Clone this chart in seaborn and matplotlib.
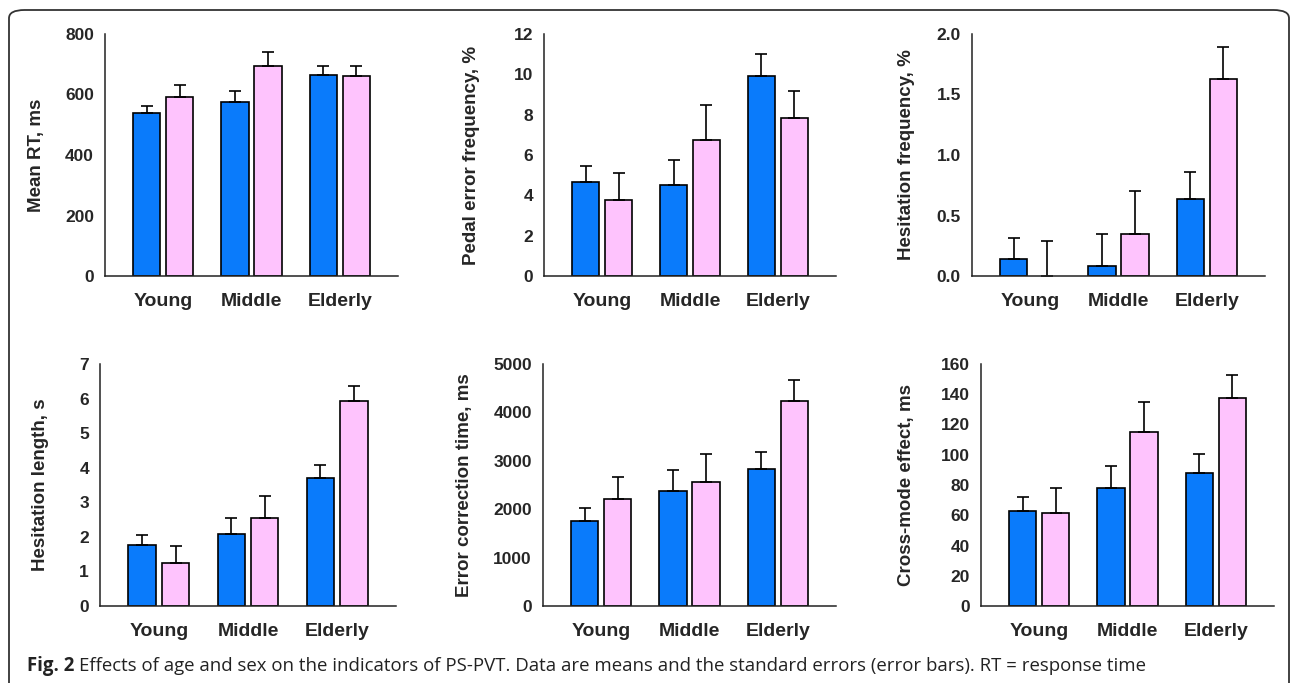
'''
    plot.py
    Effects of age and sex on PS-PVT indicators: bar charts with standard errors.
'''

import pandas as pd
import seaborn as sns
import matplotlib.pyplot as plt
from matplotlib.patches import FancyBboxPatch

groups = ['Young', 'Middle', 'Elderly']
sexes = ['Male', 'Female']

# means and standard errors (male, female)
rt_male = [539, 576, 663]
rt_female = [593, 695, 660]
rt_male_se = [22, 37, 30]
rt_female_se = [37, 47, 33]

pedal_male = [4.65, 4.5, 9.93]
pedal_female = [3.76, 6.73, 7.85]
pedal_male_se = [0.8, 1.24, 1.07]
pedal_female_se = [1.34, 1.74, 1.34]

hes_freq_male = [0.14, 0.08, 0.64]
hes_freq_female = [0.0, 0.35, 1.63]
hes_freq_male_se = [0.17, 0.27, 0.22]
hes_freq_female_se = [0.29, 0.35, 0.26]

hes_len_male = [1.76, 2.07, 3.70]
hes_len_female = [1.24, 2.55, 5.92]
hes_len_male_se = [0.29, 0.48, 0.37]
hes_len_female_se = [0.50, 0.63, 0.45]

corr_male = [1754, 2366, 2827]
corr_female = [2215, 2572, 4243]
corr_male_se = [275, 440, 357]
corr_female_se = [460, 578, 427]

cross_male = [62.7, 77.9, 88.2]
cross_female = [61.6, 114.9, 137.3]
cross_male_se = [9.3, 14.7, 12.6]
cross_female_se = [16.3, 20.0, 15.6]

panels = [
    ('Mean RT, ms', rt_male, rt_female, rt_male_se, rt_female_se, (0, 800), 200, '%d'),
    ('Pedal error frequency, %', pedal_male, pedal_female, pedal_male_se, pedal_female_se, (0, 12), 2, '%d'),
    ('Hesitation frequency, %', hes_freq_male, hes_freq_female, hes_freq_male_se, hes_freq_female_se, (0, 2), 0.5, '%.1f'),
    ('Hesitation length, s', hes_len_male, hes_len_female, hes_len_male_se, hes_len_female_se, (0, 7), 1, '%d'),
    ('Error correction time, ms', corr_male, corr_female, corr_male_se, corr_female_se, (0, 5000), 1000, '%d'),
    ('Cross-mode effect, ms', cross_male, cross_female, cross_male_se, cross_female_se, (0, 160), 20, '%d'),
]

palette = {'Male': '#0a7bfb', 'Female': '#fec3fd'}

W, H = 1292, 683
# axes boxes in pixels: left, top, width, height
boxes = [(105, 34, 293, 242), (544, 34, 292, 242), (972, 34, 293, 242),
         (100, 364, 296, 242), (543, 364, 293, 242), (981, 364, 293, 242)]
label_x = [-0.205, -0.219, -0.195, -0.172, -0.239, -0.225]


def make_df(male, female):
    rows = []
    for g, m, f in zip(groups, male, female):
        rows.append({'group': g, 'sex': 'Male', 'value': m})
        rows.append({'group': g, 'sex': 'Female', 'value': f})
    return pd.DataFrame(rows)


def draw_panel(ax, ylabel, male, female, male_se, female_se, ylim, step, fmt, lx):
    df = make_df(male, female)
    sns.barplot(data=df, x='group', y='value', hue='sex', order=groups,
                hue_order=sexes, palette=palette, width=0.75, gap=0.18,
                edgecolor='black', linewidth=1.2, errorbar=None, legend=False,
                saturation=1, ax=ax)
    for cont, se in zip(ax.containers, [male_se, female_se]):
        xs = [p.get_x() + p.get_width() / 2 for p in cont.patches]
        ys = [p.get_height() for p in cont.patches]
        for p in cont.patches:
            if p.get_height() == 0:
                p.set_linewidth(0)
        ax.errorbar(xs, ys, yerr=[[0] * len(se), se], fmt='none', ecolor='black',
                    elinewidth=1.2, capsize=4, capthick=1.2, zorder=1)
    ax.set_xlim(-0.66, 2.66)
    ax.set_ylim(*ylim)
    n = int(round((ylim[1] - ylim[0]) / step))
    ticks = [ylim[0] + i * step for i in range(n + 1)]
    ax.set_yticks(ticks)
    ax.set_yticklabels([fmt % t for t in ticks])
    ax.set_xlabel('')
    ax.set_ylabel(ylabel, fontsize=13.5, fontweight='bold')
    ax.yaxis.set_label_coords(lx, 0.5)
    for s in ['top', 'right']:
        ax.spines[s].set_visible(False)
    for s in ['left', 'bottom']:
        ax.spines[s].set_linewidth(1.1)
        ax.spines[s].set_color('#222222')
    ax.tick_params(axis='y', labelsize=12.5, length=3, width=1, pad=5)
    ax.tick_params(axis='x', labelsize=14, length=3, width=1, pad=9)
    for t in ax.get_xticklabels() + ax.get_yticklabels():
        t.set_fontweight('bold')


def main():
    sns.set_style('white')
    plt.rcParams['font.family'] = ['Liberation Sans', 'DejaVu Sans']
    fig = plt.figure(figsize=(W / 100, H / 100), dpi=100)

    border = FancyBboxPatch((9 / W, -30 / H), 1280 / W, 703 / H,
                            boxstyle='round,pad=0,rounding_size=0.012',
                            transform=fig.transFigure, fill=False,
                            edgecolor='#333333', linewidth=1.3)
    fig.patches.append(border)

    for (l, t, w, h), p, lx in zip(boxes, panels, label_x):
        ax = fig.add_axes([l / W, (H - t - h) / H, w / W, h / H])
        draw_panel(ax, *p, lx)

    bold = fig.text(27 / W, 12 / H, 'Fig. 2', fontsize=13.4, fontweight='bold',
                    family='Open Sans', color='#222222', va='baseline')
    r = fig.canvas.get_renderer()
    x1 = bold.get_window_extent(r).x1
    fig.text((x1 + 5) / W, 12 / H,
             'Effects of age and sex on the indicators of PS-PVT. Data are means '
             'and the standard errors (error bars). RT = response time',
             fontsize=13.4, family='Open Sans', color='#222222', va='baseline')

    fig.savefig('out.png', dpi=100)


if __name__ == '__main__':
    main()
